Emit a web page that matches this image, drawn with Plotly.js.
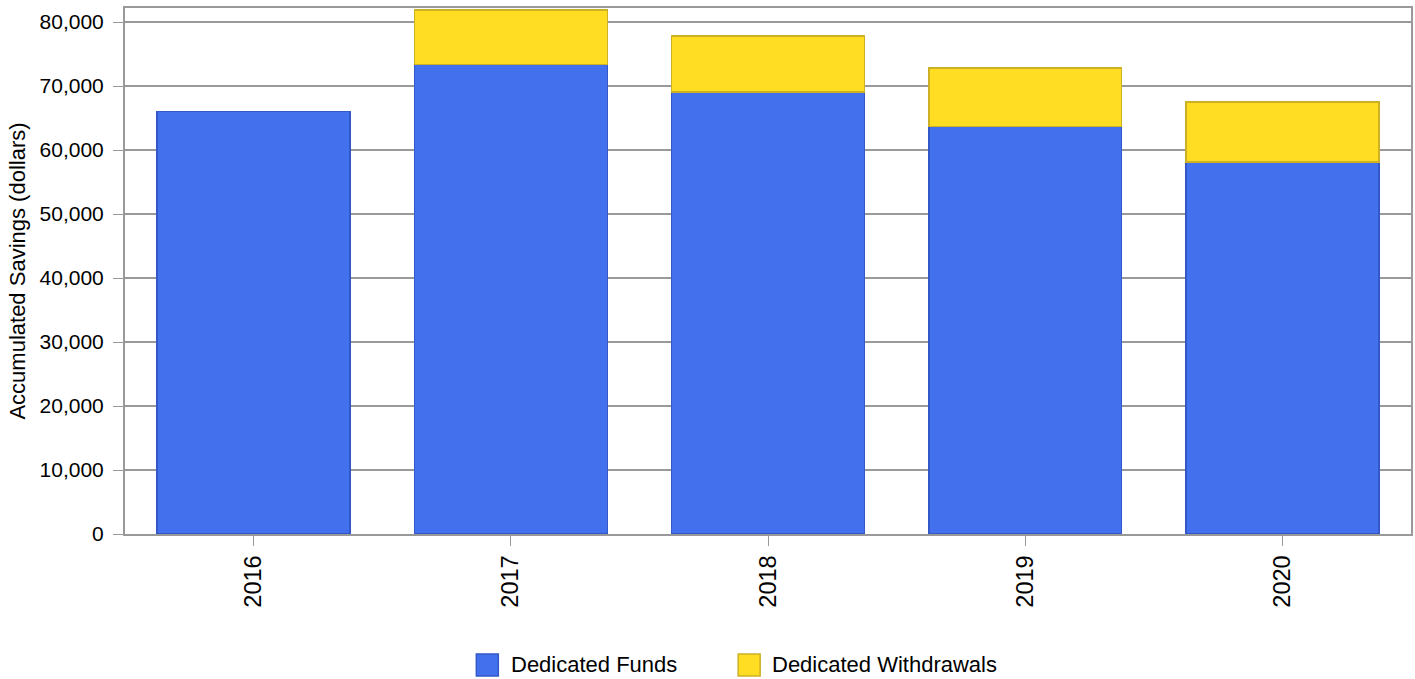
<!DOCTYPE html>
<html>
<head>
<meta charset="utf-8">
<script src="https://cdn.plot.ly/plotly-3.0.1.min.js"></script>
<style>html,body{margin:0;padding:0;background:#fff;}#chart{width:1415px;height:679px;}</style>
</head>
<body>
<div id="chart"></div>
<script>
const years = ["2016", "2017", "2018", "2019", "2020"];
const dedicatedFunds = [66000, 73400, 69050, 63650, 58100];
const dedicatedWithdrawals = [null, 8450, 8800, 9150, 9400];
const yTickVals = [0, 10000, 20000, 30000, 40000, 50000, 60000, 70000, 80000];
const seriesNames = ["Dedicated Funds", "Dedicated Withdrawals"];

const fillColors = ["#4371EE", "#FFDD22"];
const lineColors = ["#3358C8", "#CDB024"];
const fam = "Liberation Sans, Arial, sans-serif";
const font = {family: fam, size: 22, color: "#000"};

const traces = [
  {
    type: "bar", name: seriesNames[0], x: years, y: dedicatedFunds,
    marker: {color: fillColors[0], line: {color: lineColors[0], width: 1.5}}
  },
  {
    type: "bar", name: seriesNames[1], x: years, y: dedicatedWithdrawals,
    marker: {color: fillColors[1], line: {color: lineColors[1], width: 1.5}}
  }
];

// custom legend (large square swatches)
const legendBoxes = [[0.2732, 0.2903], [0.4768, 0.4939]];
const legendTextX = [0.2989, 0.5017];
const shapes = legendBoxes.map((b, i) => ({
  type: "rect", xref: "paper", yref: "paper", x0: b[0], x1: b[1], y0: -0.2281, y1: -0.27,
  fillcolor: fillColors[i], line: {color: lineColors[i], width: 1.5}
}));
const annotations = seriesNames.map((n, i) => ({
  xref: "paper", yref: "paper", x: legendTextX[i], y: -0.249, xanchor: "left", yanchor: "middle",
  text: n, showarrow: false, font: font
}));

const layout = {
  width: 1415, height: 679,
  barmode: "stack", bargap: 0.25,
  margin: {l: 124.5, r: 4, t: 8, b: 145, autoexpand: false},
  paper_bgcolor: "#fff", plot_bgcolor: "#fff",
  font: font,
  showlegend: false,
  shapes: shapes,
  annotations: annotations,
  xaxis: {
    type: "category", tickangle: -90, ticks: "outside", ticklen: 10, tickcolor: "#999",
    showline: true, linecolor: "#999", linewidth: 2, mirror: true, showgrid: false,
    tickfont: {family: fam, size: 23.5, color: "#000"}
  },
  yaxis: {
    range: [0, 82200], tickvals: yTickVals, tickformat: ",d", ticks: "outside", ticklen: 10,
    tickcolor: "#999", showline: true, linecolor: "#999", linewidth: 2, mirror: true,
    showgrid: true, gridcolor: "#999", gridwidth: 2, zeroline: false, ticklabelstandoff: 5,
    title: {text: "Accumulated Savings (dollars)", font: font, standoff: 8},
    tickfont: {family: fam, size: 21, color: "#000"}
  }
};

Plotly.newPlot("chart", traces, layout, {displayModeBar: false, staticPlot: true});
</script>
</body>
</html>
